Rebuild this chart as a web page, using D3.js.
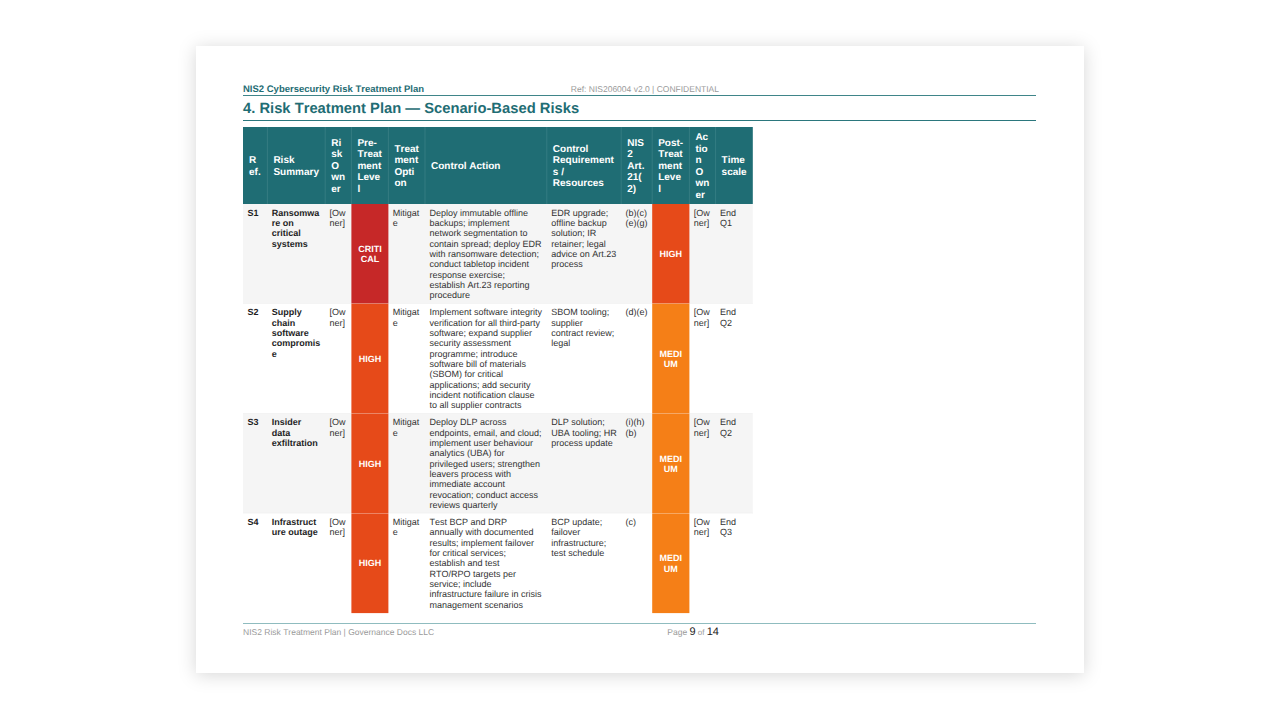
<!DOCTYPE html>
<html>
<head>
<meta charset="utf-8">
<script src="https://cdn.jsdelivr.net/npm/d3@7"></script>
<style>
  body { margin: 0; background: #ffffff; }
</style>
</head>
<body>
<script>
// ---- table content ----
var headers = ["Ref.", "Risk Summary", "Risk Owner", "Pre-Treatment Level", "Treatment Option",
               "Control Action", "Control Requirements / Resources", "NIS2 Art. 21(2)",
               "Post-Treatment Level", "Action Owner", "Timescale"];

var refs = ["S1", "S2", "S3", "S4"];
var summaries = ["Ransomware on critical systems", "Supply chain software compromise",
                 "Insider data exfiltration", "Infrastructure outage"];
var riskOwners = ["[Owner]", "[Owner]", "[Owner]", "[Owner]"];
var preLevels = ["CRITICAL", "HIGH", "HIGH", "HIGH"];
var treatOptions = ["Mitigate", "Mitigate", "Mitigate", "Mitigate"];
var actions = [
  "Deploy immutable offline backups; implement network segmentation to contain spread; deploy EDR with ransomware detection; conduct tabletop incident response exercise; establish Art.23 reporting procedure",
  "Implement software integrity verification for all third-party software; expand supplier security assessment programme; introduce software bill of materials (SBOM) for critical applications; add security incident notification clause to all supplier contracts",
  "Deploy DLP across endpoints, email, and cloud; implement user behaviour analytics (UBA) for privileged users; strengthen leavers process with immediate account revocation; conduct access reviews quarterly",
  "Test BCP and DRP annually with documented results; implement failover for critical services; establish and test RTO/RPO targets per service; include infrastructure failure in crisis management scenarios"
];
var resources = ["EDR upgrade; offline backup solution; IR retainer; legal advice on Art.23 process",
                 "SBOM tooling; supplier contract review; legal",
                 "DLP solution; UBA tooling; HR process update",
                 "BCP update; failover infrastructure; test schedule"];
var articles = ["(b)(c)(e)(g)", "(d)(e)", "(i)(h)(b)", "(c)"];
var postLevels = ["HIGH", "MEDIUM", "MEDIUM", "MEDIUM"];
var actionOwners = ["[Owner]", "[Owner]", "[Owner]", "[Owner]"];
var timescales = ["End Q1", "End Q2", "End Q2", "End Q3"];

var levelNames = ["CRITICAL", "HIGH", "MEDIUM"];

// ---- layout ----
var W = 1280, H = 720;
var teal = "#1f6d74";
var colWidths = [24.4, 57.8, 26.2, 37, 36.6, 121.8, 74.4, 31, 37.2, 26.2, 37.2];
var tableX = 243, tableY = 127;
var hdrFont = 10, hdrLine = 11.5, hdrPadX = 6, hdrPadY = 4;
var bodyFont = 9, bodyLine = 10.3, bodyPadX = 4.4, bodyPadY = 3.5;
var levelCols = [3, 8];

var colors = d3.scaleOrdinal().domain(levelNames).range(["#c62828", "#e64a19", "#f57f17"]);

var colX = d3.scaleOrdinal()
    .domain(d3.range(headers.length))
    .range([0].concat(Array.from(d3.cumsum(colWidths))).map(function(v) { return tableX + v; }));

var svg = d3.select("body").append("svg")
    .attr("width", W)
    .attr("height", H)
    .attr("text-rendering", "geometricPrecision")
    .style("font-family", '"Liberation Sans", Arial, sans-serif')
    .style("font-kerning", "none");

var defs = svg.append("defs");
var shadow = defs.append("filter").attr("id", "shadow")
    .attr("x", "-10%").attr("y", "-10%").attr("width", "120%").attr("height", "120%");
shadow.append("feDropShadow")
    .attr("dx", 0).attr("dy", 2).attr("stdDeviation", 9)
    .attr("flood-color", "#000").attr("flood-opacity", 0.16);

// page card
svg.append("rect")
    .attr("x", 196).attr("y", 46).attr("width", 888).attr("height", 627)
    .attr("fill", "#fff")
    .attr("filter", "url(#shadow)");

// text measuring helper
var meas = svg.append("text").attr("x", -2000).attr("y", -2000);
function measurer(size, weight) {
  return function(s) {
    meas.attr("font-size", size).attr("font-weight", weight).text(s);
    return meas.node().getComputedTextLength();
  };
}

// greedy wrap: breaks at spaces, after hyphens and between ")(",
// and splits words that do not fit on their own
function wrap(str, maxW, measure) {
  var segs = [];
  str.split(" ").forEach(function(w, i) {
    w.split(/(?<=-)|(?<=\))(?=\()/).forEach(function(p, j) {
      segs.push({ t: p, glue: (i > 0 && j === 0) ? " " : "" });
    });
  });
  var lines = [], cur = "";
  segs.forEach(function(s) {
    var trial = cur ? cur + s.glue + s.t : s.t;
    if (measure(trial) <= maxW) { cur = trial; return; }
    if (cur) { lines.push(cur); cur = ""; }
    var rest = s.t;
    while (rest.length > 1 && measure(rest) > maxW) {
      var k = 1;
      while (k < rest.length && measure(rest.slice(0, k + 1)) <= maxW) k++;
      lines.push(rest.slice(0, k));
      rest = rest.slice(k);
    }
    cur = rest;
  });
  if (cur) lines.push(cur);
  return lines;
}

// ---- running header ----
svg.append("text")
    .attr("x", 243).attr("y", 92.3)
    .attr("font-size", 9.5).attr("font-weight", "bold").attr("fill", teal)
    .text("NIS2 Cybersecurity Risk Treatment Plan");

svg.append("text")
    .attr("x", 719).attr("y", 92.3)
    .attr("text-anchor", "end")
    .attr("font-size", 8.5).attr("fill", "#9a9a9a")
    .text("Ref: NIS206004 v2.0 | CONFIDENTIAL");

svg.append("line")
    .attr("x1", 243).attr("x2", 1036).attr("y1", 95.5).attr("y2", 95.5)
    .attr("stroke", "#3f8589").attr("stroke-width", 1);

svg.append("text")
    .attr("x", 243).attr("y", 113.3)
    .attr("font-size", 14.75).attr("font-weight", "bold").attr("fill", teal)
    .text("4. Risk Treatment Plan \u2014 Scenario-Based Risks");

svg.append("line")
    .attr("x1", 243).attr("x2", 1036).attr("y1", 120.5).attr("y2", 120.5)
    .attr("stroke", "#2b777d").attr("stroke-width", 1);

// ---- table header ----
var hdrMeasure = measurer(hdrFont, "bold");
var hdrLines = headers.map(function(h, i) {
  return wrap(h, colWidths[i] - 2 * hdrPadX, hdrMeasure);
});
var hdrH = d3.max(hdrLines, function(l) { return l.length; }) * hdrLine + 2 * hdrPadY;

var gHead = svg.append("g");
gHead.append("rect")
    .attr("x", tableX).attr("y", tableY)
    .attr("width", d3.sum(colWidths)).attr("height", hdrH)
    .attr("fill", teal);

gHead.selectAll("line.sep")
    .data(d3.range(1, headers.length))
    .enter().append("line")
    .attr("class", "sep")
    .attr("x1", function(i) { return colX(i); })
    .attr("x2", function(i) { return colX(i); })
    .attr("y1", tableY).attr("y2", tableY + hdrH)
    .attr("stroke", "#3a8086").attr("stroke-width", 0.8);

gHead.selectAll("text.hdr")
    .data(hdrLines)
    .enter().append("text")
    .attr("class", "hdr")
    .attr("font-size", hdrFont).attr("font-weight", "bold").attr("fill", "#fff")
    .each(function(lines, i) {
      var top = tableY + (hdrH - lines.length * hdrLine) / 2;
      d3.select(this).selectAll("tspan")
        .data(lines)
        .enter().append("tspan")
        .attr("x", colX(i) + hdrPadX)
        .attr("y", function(d, k) { return top + k * hdrLine + 9.2; })
        .text(function(d) { return d; });
    });

// ---- table body ----
var columns = [refs, summaries, riskOwners, preLevels, treatOptions, actions,
               resources, articles, postLevels, actionOwners, timescales];
var boldCols = [0, 1, 3, 8];

var bodyRegular = measurer(bodyFont, "normal");
var bodyBold = measurer(bodyFont, "bold");

var rows = refs.map(function(r, ri) {
  var cells = columns.map(function(col, ci) {
    var m = boldCols.indexOf(ci) >= 0 ? bodyBold : bodyRegular;
    return { ci: ci, value: col[ri], lines: wrap(col[ri], colWidths[ci] - 2 * bodyPadX, m) };
  });
  var n = d3.max(cells, function(c) { return c.lines.length; });
  return { ri: ri, cells: cells, h: n * bodyLine + 2 * bodyPadY };
});
var yAcc = tableY + hdrH;
rows.forEach(function(r) { r.y = yAcc; yAcc += r.h; });

var gRows = svg.selectAll("g.row")
    .data(rows)
    .enter().append("g")
    .attr("class", "row");

gRows.append("rect")
    .attr("x", tableX).attr("y", function(r) { return r.y; })
    .attr("width", d3.sum(colWidths)).attr("height", function(r) { return r.h; })
    .attr("fill", function(r) { return r.ri % 2 === 0 ? "#f5f5f5" : "#ffffff"; });

gRows.filter(function(r) { return r.ri < rows.length - 1; })
    .append("line")
    .attr("x1", tableX).attr("x2", tableX + d3.sum(colWidths))
    .attr("y1", function(r) { return r.y + r.h; })
    .attr("y2", function(r) { return r.y + r.h; })
    .attr("stroke", "#e6e6e6").attr("stroke-width", 0.6);

gRows.each(function(r) {
  var g = d3.select(this);

  // coloured risk level cells
  g.selectAll("rect.level")
    .data(r.cells.filter(function(c) { return levelCols.indexOf(c.ci) >= 0; }))
    .enter().append("rect")
    .attr("class", "level")
    .attr("x", function(c) { return colX(c.ci); })
    .attr("y", r.y)
    .attr("width", function(c) { return colWidths[c.ci]; })
    .attr("height", r.h)
    .attr("fill", function(c) { return colors(c.value); });

  g.selectAll("text.cell")
    .data(r.cells)
    .enter().append("text")
    .attr("class", "cell")
    .attr("font-size", bodyFont)
    .attr("font-weight", function(c) { return boldCols.indexOf(c.ci) >= 0 ? "bold" : "normal"; })
    .attr("fill", function(c) {
      if (levelCols.indexOf(c.ci) >= 0) return "#fff";
      return boldCols.indexOf(c.ci) >= 0 ? "#1e1e1e" : "#333";
    })
    .attr("text-anchor", function(c) { return levelCols.indexOf(c.ci) >= 0 ? "middle" : "start"; })
    .each(function(c) {
      var isLevel = levelCols.indexOf(c.ci) >= 0;
      var top = isLevel ? r.y + (r.h - c.lines.length * bodyLine) / 2 : r.y + bodyPadY;
      var x = isLevel ? colX(c.ci) + colWidths[c.ci] / 2 : colX(c.ci) + bodyPadX;
      d3.select(this).selectAll("tspan")
        .data(c.lines)
        .enter().append("tspan")
        .attr("x", x)
        .attr("y", function(d, k) { return top + k * bodyLine + 8.27; })
        .text(function(d) { return d; });
    });
});

meas.remove();

// ---- footer ----
svg.append("line")
    .attr("x1", 243).attr("x2", 1036).attr("y1", 623.5).attr("y2", 623.5)
    .attr("stroke", "#8fbcbf").attr("stroke-width", 1);

svg.append("text")
    .attr("x", 243).attr("y", 634.5)
    .attr("font-size", 8.5).attr("fill", "#9a9a9a")
    .text("NIS2 Risk Treatment Plan | Governance Docs LLC");

var pg = svg.append("text")
    .attr("x", 719).attr("y", 634.5)
    .attr("text-anchor", "end");
pg.append("tspan").attr("font-size", 8.5).attr("fill", "#9a9a9a").text("Page ");
pg.append("tspan").attr("font-size", 11).attr("fill", "#222").text("9");
pg.append("tspan").attr("font-size", 8).attr("fill", "#9a9a9a").text(" of ");
pg.append("tspan").attr("font-size", 11).attr("fill", "#222").text("14");
</script>
</body>
</html>
